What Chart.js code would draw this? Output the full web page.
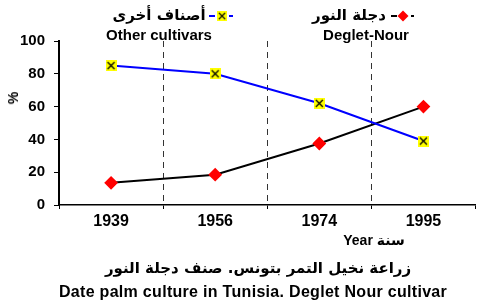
<!DOCTYPE html>
<html>
<head>
<meta charset="utf-8">
<script src="https://cdn.jsdelivr.net/npm/chart.js@4"></script>
<style>
  body { margin: 0; background: #fff; }
  #wrap { position: relative; width: 483px; height: 305px; }
  canvas { position: absolute; left: 0; top: 0; }
  .t {
    position: absolute;
    transform: translate(-50%, -50%);
    white-space: nowrap;
    font-family: 'Liberation Sans', Arial, sans-serif;
    font-weight: bold;
    color: #000;
  }
  .ar { font-family: 'DejaVu Sans', sans-serif; }
</style>
</head>
<body>
<div id="wrap">
  <canvas id="chart" width="483" height="305"></canvas>
  <div class="t ar" style="left:159px;top:15px;font-size:15px" dir="rtl">أصناف أخرى</div>
  <div class="t" style="left:159px;top:34px;font-size:15px">Other cultivars</div>
  <div class="t ar" style="left:349px;top:15px;font-size:15px" dir="rtl">دجلة النور</div>
  <div class="t" style="left:366px;top:34px;font-size:15px">Deglet-Nour</div>
  <div class="t" style="left:13px;top:98px;font-size:14px;transform:translate(-50%,-50%) rotate(-90deg)">%</div>
  <div class="t" style="left:374px;top:240px;font-size:14px">Year <span class="ar">سنة</span></div>
  <div class="t ar" style="left:258px;top:268px;font-size:15px" dir="rtl">زراعة نخيل التمر بتونس. صنف دجلة النور</div>
  <div class="t" style="left:253px;top:292px;font-size:16px;letter-spacing:0.3px">Date palm culture in Tunisia. Deglet Nour cultivar</div>
</div>
<script>
// data
const years = ['1939', '1956', '1974', '1995'];
const otherCultivars = [85, 80, 62, 39];
const degletNour = [13.5, 18.5, 37.5, 60];
const yTicks = [0, 20, 40, 60, 80, 100];

// yellow square with a black X
function makeCrossMarker() {
  const c = document.createElement('canvas');
  c.width = 11; c.height = 11;
  const g = c.getContext('2d');
  g.fillStyle = '#ffff00';
  g.fillRect(0, 0, 11, 11);
  g.strokeStyle = '#000';
  g.lineWidth = 1.3;
  g.beginPath();
  g.moveTo(2, 2); g.lineTo(9, 9);
  g.moveTo(9, 2); g.lineTo(2, 9);
  g.stroke();
  return c;
}
const crossMarker = makeCrossMarker();

function drawDiamond(g, x, y, r) {
  g.fillStyle = '#ff0000';
  g.beginPath();
  g.moveTo(x, y - r); g.lineTo(x + r, y); g.lineTo(x, y + r); g.lineTo(x - r, y);
  g.closePath();
  g.fill();
}

// legend line samples with their markers
const legendSamples = {
  id: 'legendSamples',
  afterDraw(chart) {
    const g = chart.ctx;
    g.save();
    g.lineWidth = 2;
    g.strokeStyle = '#0000ff';
    g.setLineDash([6, 4]);
    g.beginPath(); g.moveTo(209, 16); g.lineTo(233, 16); g.stroke();
    g.strokeStyle = '#000';
    g.beginPath(); g.moveTo(391, 16); g.lineTo(414, 16); g.stroke();
    g.setLineDash([]);
    g.drawImage(crossMarker, 217, 11, 10, 10);
    drawDiamond(g, 403, 16, 5.5);
    g.restore();
  }
};

const inner = (c) => (c.index >= 1 && c.index <= 3) ? '#333' : 'rgba(0,0,0,0)';

new Chart(document.getElementById('chart').getContext('2d'), {
  type: 'line',
  data: {
    labels: years,
    datasets: [
      {
        label: 'Other cultivars',
        data: otherCultivars,
        borderColor: '#0000ff',
        borderWidth: 2,
        tension: 0,
        pointStyle: crossMarker,
        pointRadius: 5
      },
      {
        label: 'Deglet-Nour',
        data: degletNour,
        borderColor: '#000',
        borderWidth: 2,
        tension: 0,
        pointStyle: 'rectRot',
        pointRadius: 5.5,
        pointBackgroundColor: '#ff0000',
        pointBorderColor: '#ff0000'
      }
    ]
  },
  options: {
    responsive: false,
    animation: false,
    layout: { padding: { left: 0, right: 6, top: 41, bottom: 70 } },
    plugins: { legend: { display: false }, tooltip: { enabled: false } },
    scales: {
      x: {
        offset: true,
        afterFit: (s) => { s.height = 30; },
        grid: { offset: true, color: inner, tickColor: '#000', tickLength: 4, lineWidth: 1 },
        border: { color: '#000', width: 1.5, dash: [6, 5] },
        ticks: { color: '#000', padding: 3, font: { family: 'Liberation Sans', size: 16, weight: 'bold' } }
      },
      y: {
        min: 0,
        max: 100,
        afterFit: (s) => { s.width = 59; },
        afterBuildTicks: (s) => { s.ticks = yTicks.map(v => ({ value: v })); },
        grid: { drawOnChartArea: false, color: '#000', tickLength: 5 },
        border: { color: '#000', width: 2 },
        ticks: { color: '#000', padding: 9, font: { family: 'Liberation Sans', size: 15, weight: 'bold' } }
      }
    }
  },
  plugins: [legendSamples]
});
</script>
</body>
</html>
